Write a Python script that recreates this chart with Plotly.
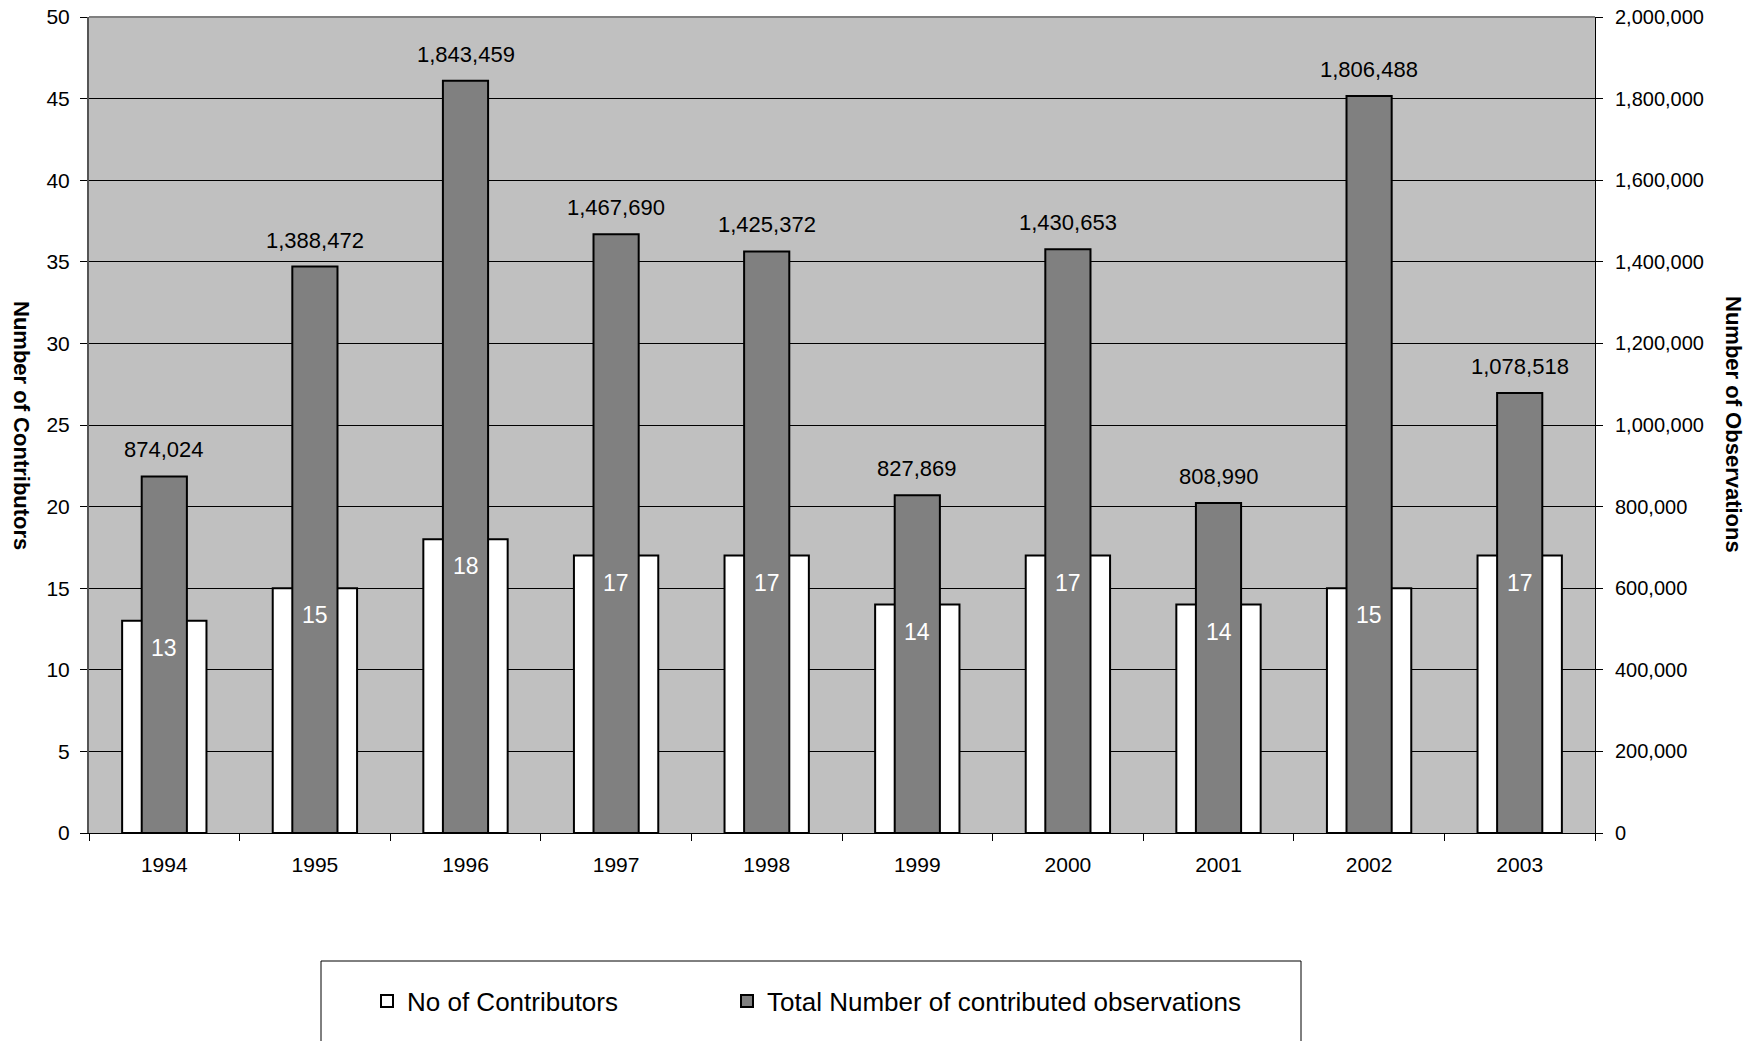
import plotly.graph_objects as go
from plotly.subplots import make_subplots

years = ["1994", "1995", "1996", "1997", "1998", "1999", "2000", "2001", "2002", "2003"]
contributors = [13, 15, 18, 17, 17, 14, 17, 14, 15, 17]
observations = [874024, 1388472, 1843459, 1467690, 1425372, 827869, 1430653, 808990, 1806488, 1078518]

left_ticks = list(range(0, 51, 5))
right_ticks = list(range(0, 2000001, 200000))

FONT = "Liberation Sans, Arial, sans-serif"
W, H = 1753, 1041
L, R, T, B = 89, 158, 17, 208
plot_w = W - L - R
plot_h = H - T - B


def px_x(x):
    return (x - L) / plot_w


def px_y(y):
    return (H - B - y) / plot_h


fig = make_subplots(specs=[[{"secondary_y": True}]])

fig.add_trace(go.Bar(
    x=years, y=contributors, name="No of Contributors",
    marker=dict(color="white", line=dict(color="black", width=2)),
    width=0.56, legend="legend",
), secondary_y=False)

fig.add_trace(go.Bar(
    x=years, y=observations, name="Total Number of contributed observations",
    marker=dict(color="#808080", line=dict(color="black", width=2)),
    width=0.30, legend="legend2",
), secondary_y=True)

# value labels for observations (above the dark bars); x is the category index
for i, v in enumerate(observations):
    fig.add_annotation(x=i, y=v, xref="x", yref="y2", text=f"{v:,}",
                       showarrow=False, yanchor="bottom", yshift=12,
                       font=dict(family=FONT, size=22, color="black"))

# value labels for contributors (inside end of the white bars)
for i, v in enumerate(contributors):
    fig.add_annotation(x=i, y=v, xref="x", yref="y", text=str(v),
                       showarrow=False, yanchor="top", yshift=-12,
                       font=dict(family=FONT, size=23, color="white"))

legend_common = dict(
    orientation="h", xanchor="left", yanchor="middle",
    bgcolor="rgba(0,0,0,0)", borderwidth=0,
    font=dict(family=FONT, size=26, color="black"),
)

fig.update_layout(
    width=W, height=H,
    margin=dict(l=L, r=R, t=T, b=B, pad=0, autoexpand=False),
    paper_bgcolor="white",
    plot_bgcolor="#C0C0C0",
    barmode="overlay",
    font=dict(family=FONT, size=20, color="black"),
    showlegend=True,
    legend=dict(x=px_x(367), y=px_y(1001), **legend_common),
    legend2=dict(x=px_x(727), y=px_y(1001), **legend_common),
)

fig.update_xaxes(
    type="category", automargin=False, domain=[0, 1],
    range=[-0.5, len(years) - 0.5],
    showgrid=False,
    ticks="outside", tickson="boundaries", ticklen=7, tickcolor="black", tickwidth=1,
    showline=True, linecolor="black", linewidth=1,
    tickfont=dict(family=FONT, size=21, color="black"),
    ticklabelstandoff=13,
)

fig.update_yaxes(
    range=[0, 50], tickvals=left_ticks, automargin=False,
    showgrid=True, gridcolor="black", gridwidth=1,
    ticks="outside", ticklen=7, tickcolor="black",
    showline=True, linecolor="#555555", linewidth=2,
    tickfont=dict(family=FONT, size=21, color="black"),
    ticklabelstandoff=6,
    zeroline=False,
    secondary_y=False,
)

fig.update_yaxes(
    range=[0, 2000000], tickvals=right_ticks, automargin=False,
    tickformat=",d",
    showgrid=False,
    ticks="outside", ticklen=7, tickcolor="black",
    showline=True, linecolor="black", linewidth=1,
    tickfont=dict(family=FONT, size=20, color="black"),
    ticklabelstandoff=8,
    zeroline=False,
    secondary_y=True,
)

# plot border (top edge)
fig.add_shape(type="line", xref="paper", yref="paper", x0=0, x1=1, y0=1, y1=1,
              line=dict(color="#808080", width=2))

# legend box
fig.add_shape(type="rect", xref="paper", yref="paper",
              x0=px_x(321), x1=px_x(1301), y0=px_y(1060), y1=px_y(961),
              line=dict(color="black", width=1), fillcolor="rgba(0,0,0,0)", layer="below")

# axis titles (rotated clockwise, reading top-to-bottom)
fig.add_annotation(text="<b>Number of Contributors</b>", xref="paper", yref="paper",
                   x=px_x(22), y=0.5, textangle=90, showarrow=False,
                   font=dict(family=FONT, size=22, color="black"),
                   xanchor="center", yanchor="middle")
fig.add_annotation(text="<b>Number of Observations</b>", xref="paper", yref="paper",
                   x=px_x(1734), y=0.5, textangle=90, showarrow=False,
                   font=dict(family=FONT, size=22, color="black"),
                   xanchor="center", yanchor="middle")

fig.write_html("out.html")
